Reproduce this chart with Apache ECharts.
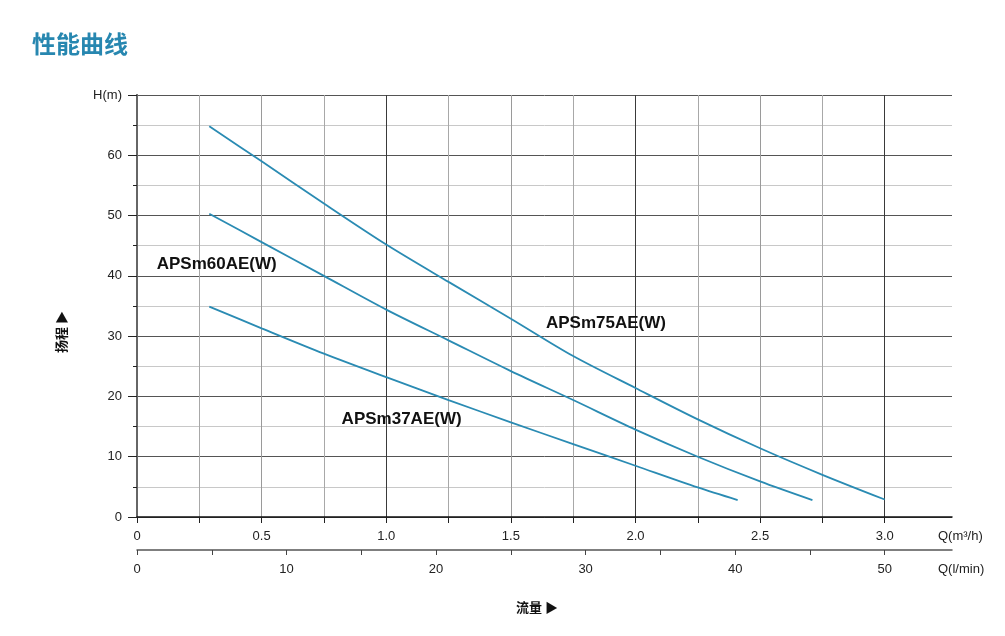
<!DOCTYPE html>
<html>
<head>
<meta charset="utf-8">
<script src="https://cdn.jsdelivr.net/npm/echarts@6/dist/echarts.min.js"></script>
<style>
html,body{margin:0;padding:0;background:#fff;}
#chart{width:1005px;height:636px;}
</style>
</head>
<body>
<div id="chart"></div>
<script>
// ---- data (flow Q in m3/h, head H in m) ----
const curveNames = ['APSm75AE(W)', 'APSm60AE(W)', 'APSm37AE(W)'];
const apsm75 = [[0.29,64.8],[0.5,59.0],[0.75,52.0],[1.0,45.2],[1.25,39.0],[1.5,32.9],[1.75,26.7],[2.0,21.4],[2.25,16.2],[2.5,11.4],[2.75,7.0],[3.0,2.9]];
const apsm60 = [[0.29,50.3],[0.5,45.6],[0.75,40.0],[1.0,34.4],[1.25,29.3],[1.5,24.2],[1.75,19.4],[2.0,14.5],[2.25,10.0],[2.5,5.9],[2.71,2.8]];
const apsm37 = [[0.29,34.9],[0.5,31.3],[0.75,27.1],[1.0,23.2],[1.25,19.4],[1.5,15.7],[1.75,12.1],[2.0,8.5],[2.25,4.9],[2.41,2.8]];
const qTicks = [0,0.25,0.5,0.75,1.0,1.25,1.5,1.75,2.0,2.25,2.5,2.75,3.0];
const qLabels = [0,0.5,1.0,1.5,2.0,2.5,3.0];
const lTicks = [0,5,10,15,20,25,30,35,40,45,50];
const lLabels = [0,10,20,30,40,50];
const hLabels = [0,10,20,30,40,50,60,70];

// ---- layout / style config ----
const qMax = 3.27;                 // right edge of plot in m3/h
const lMax = qMax * 50 / 3;        // same edge in l/min
const labelAnchors = [[1.641,32.2],[0.079,41.96],[0.821,16.2]];
const lineColor = '#2a8bb3';
const fontLatin = '"Liberation Sans", Arial, sans-serif';
const fontCJK = '"Noto Sans CJK SC", sans-serif';

const vColors = qTicks.map((q, i) => (i % 4 === 0 ? '#3a3a3a' : (i % 2 === 0 ? '#9a9a9a' : '#a8a8a8')));
vColors.push('rgba(0,0,0,0)', 'rgba(0,0,0,0)');

const chart = echarts.init(document.getElementById('chart'));
const seriesData = [apsm75, apsm60, apsm37];

chart.setOption({
  animation: false,
  backgroundColor: '#fff',
  grid: { left: 137, top: 95, right: 53, bottom: 119, containLabel: false, outerBoundsMode: 'none' },
  xAxis: [{
    type: 'value', position: 'bottom', min: 0, max: qMax, interval: 0.25,
    axisLine: { show: true, onZero: false, lineStyle: { color: '#111', width: 1.5 } },
    axisTick: { show: true, length: 6, customValues: qTicks, lineStyle: { color: '#222' } },
    axisLabel: { customValues: qLabels, margin: 13, color: '#222', fontSize: 13, fontFamily: fontLatin,
      formatter: v => (v === 0 ? '0' : v.toFixed(1)) },
    splitLine: { show: true, lineStyle: { color: vColors, width: 1 } }
  }, {
    type: 'value', position: 'bottom', offset: 33, min: 0, max: lMax, interval: 5,
    axisLine: { show: true, onZero: false, lineStyle: { color: '#555', width: 1.5 } },
    axisTick: { show: true, length: 5, customValues: lTicks, lineStyle: { color: '#444' } },
    axisLabel: { customValues: lLabels, margin: 13, color: '#222', fontSize: 13, fontFamily: fontLatin },
    splitLine: { show: false }
  }],
  yAxis: [{
    type: 'value', min: 0, max: 70, interval: 10,
    axisLine: { show: true, onZero: false, lineStyle: { color: '#111', width: 1.5 } },
    axisTick: { show: true, length: 9, lineStyle: { color: '#222' } },
    minorTick: { show: true, splitNumber: 2, length: 4, lineStyle: { color: '#222' } },
    axisLabel: { margin: 15, color: '#222', fontSize: 13, fontFamily: fontLatin,
      formatter: v => (v === 70 ? 'H(m)' : String(v)) },
    splitLine: { show: true, lineStyle: { color: '#555', width: 1 } },
    minorSplitLine: { show: true, lineStyle: { color: '#c8c8c8', width: 1 } }
  }, {
    type: 'value', position: 'right', min: 0, max: 70,
    axisLine: { show: true, lineStyle: { color: '#666', width: 2 } },
    axisTick: { show: false }, axisLabel: { show: false }, splitLine: { show: false }
  }],
  series: seriesData.map((d, i) => ({
    name: curveNames[i], type: 'line', xAxisIndex: 0, yAxisIndex: 0,
    data: d, smooth: 0.3, showSymbol: false, silent: true,
    lineStyle: { color: lineColor, width: 1.8 },
    markPoint: {
      symbol: 'circle', symbolSize: 0, silent: true,
      data: [{ coord: labelAnchors[i], value: curveNames[i] }],
      label: { show: true, position: 'right', distance: 0, formatter: curveNames[i],
        color: '#111', fontSize: 17, fontWeight: 'bold', fontFamily: fontLatin }
    }
  })),
  graphic: [
    { type: 'text', left: 32, top: 32, style: { text: '性能曲线', fill: '#2787b0', font: 'bold 24px ' + fontCJK } },
    { type: 'text', x: 938, y: 536, style: { text: 'Q(m³/h)', fill: '#222', font: '13px ' + fontLatin, textVerticalAlign: 'middle' } },
    { type: 'text', x: 938, y: 569, style: { text: 'Q(l/min)', fill: '#222', font: '13px ' + fontLatin, textVerticalAlign: 'middle' } },
    { type: 'text', x: 61, y: 332, rotation: Math.PI / 2,
      style: { text: '扬程 ▶', fill: '#111', font: 'bold 13px ' + fontCJK, textAlign: 'center', textVerticalAlign: 'middle' } },
    { type: 'text', x: 537, y: 607,
      style: { text: '流量 ▶', fill: '#111', font: 'bold 13px ' + fontCJK, textAlign: 'center', textVerticalAlign: 'middle' } }
  ]
});
</script>
</body>
</html>
